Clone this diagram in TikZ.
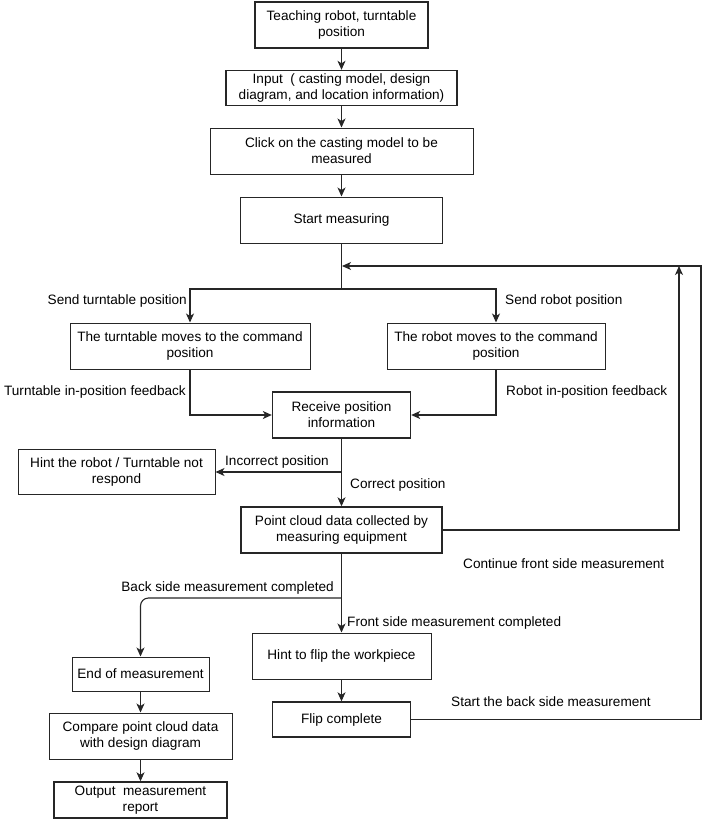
\documentclass[tikz,border=0pt]{standalone}
\usepackage{fontspec}
\setmainfont{Liberation Sans}
\usetikzlibrary{arrows.meta}
\tikzset{
  box/.style={draw=black!85, line width=1pt, align=center, inner sep=0pt,
    font=\fontsize{13.6}{16}\selectfont},
  boxb/.style={box, line width=1.4pt},
  lbl/.style={inner sep=0pt, font=\fontsize{13.6}{16}\selectfont},
  conn/.style={draw=black!85, line width=1.1pt},
  arr/.style={conn, -{Stealth[length=9pt,width=8pt,inset=2.5pt]}},
}
\begin{document}
\begin{tikzpicture}[x=1pt,y=-1pt]
\useasboundingbox (0,0) rectangle (706,819);
% nodes
\node[boxb, minimum width=173pt, minimum height=46pt] (b1) at (341.5,25) {Teaching robot, turntable\\position};
\node[boxb, minimum width=231pt, minimum height=35pt] (b2) at (341.5,88) {Input\ \ ( casting model, design\\diagram, and location information)};
\node[box, minimum width=263pt, minimum height=46pt] (b3) at (341.5,151) {Click on the casting model to be\\measured};
\node[box, minimum width=202pt, minimum height=46pt] (b4) at (341.5,220) {Start measuring};
\node[box, minimum width=240pt, minimum height=46pt] (tt) at (190,346) {The turntable moves to the command\\position};
\node[box, minimum width=218pt, minimum height=46pt] (rb) at (496,346) {The robot moves to the command\\position};
\node[boxb, minimum width=138pt, minimum height=46pt] (rx) at (341.5,415) {Receive position\\information};
\node[box, minimum width=197pt, minimum height=45pt] (hint) at (116.5,472) {Hint the robot / Turntable not\\respond};
\node[boxb, minimum width=201pt, minimum height=46pt] (pc) at (341.5,530) {Point cloud data collected by\\measuring equipment};
\node[box, minimum width=179pt, minimum height=46pt] (hf) at (341.5,656) {Hint to flip the workpiece};
\node[boxb, minimum width=138pt, minimum height=35pt] (fc) at (341.5,719.5) {Flip complete};
\node[box, minimum width=137pt, minimum height=34pt] (end) at (140.5,674) {End of measurement};
\node[box, minimum width=183pt, minimum height=46pt] (cmp) at (140.5,736) {Compare point cloud data\\with design diagram};
\node[boxb, minimum width=173pt, minimum height=36pt] (out) at (140.5,800) {Output\ \ measurement\\report};
% labels
\node[lbl, anchor=east] (l1) at (187,301) {Send turntable position};
\node[lbl, anchor=west] (l2) at (505,301) {Send robot position};
\node[lbl, anchor=east] (l3) at (186,392) {Turntable in-position feedback};
\node[lbl, anchor=west] (l4) at (506,392) {Robot in-position feedback};
\node[lbl, anchor=west] (l5) at (225,462) {Incorrect position};
\node[lbl, anchor=west] (l6) at (350,485) {Correct position};
\node[lbl, anchor=west] (l7) at (463,564) {Continue front side measurement};
\node[lbl, anchor=east] (l8) at (334,588) {Back side measurement completed};
\node[lbl, anchor=west] (l9) at (347,623) {Front side measurement completed};
\node[lbl, anchor=west] (l10) at (451,702) {Start the back side measurement};
% coordinates
\coordinate (sp) at (341.5,289);
\coordinate (loopin) at (342,266);
\coordinate (lr1) at (679,266);
\coordinate (lr2) at (701,266);
\coordinate (ic) at (341.5,472);
\coordinate (br) at (341.5,598);
% connectors
\draw[arr] (b1) -- (b2);
\draw[arr] (b2) -- (b3);
\draw[arr] (b3) -- (b4);
\draw[conn] (b4.south) -- (sp);
\draw[arr] (sp) -| (tt.north);
\draw[arr] (sp) -| (rb.north);
\draw[arr] (tt.south) |- (rx.west);
\draw[arr] (rb.south) |- (rx.east);
\draw[arr] (rx) -- (pc);
\draw[arr] (ic) -- (hint.east);
\draw[arr] (pc.east) -| (lr1);
\draw[arr] (fc.east) -| (lr2) -- (loopin);
\draw[arr] (pc) -- (hf);
\draw[arr, rounded corners=8pt] (br) -| (end.north);
\draw[arr] (hf) -- (fc);
\draw[arr] (end) -- (cmp);
\draw[arr] (cmp) -- (out);
\end{tikzpicture}
\end{document}
